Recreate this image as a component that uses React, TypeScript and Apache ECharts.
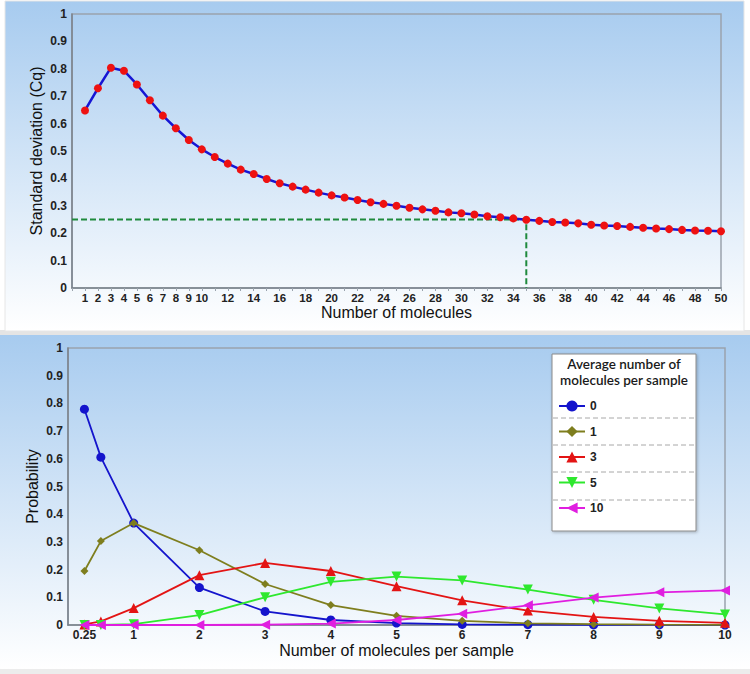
import React, { useEffect, useRef } from "react";
import * as echarts from "echarts";

// ---- Top chart data ----
const nMolecules = [
  1, 2, 3, 4, 5, 6, 7, 8, 9, 10, 11, 12, 13, 14, 15, 16, 17, 18, 19, 20, 21, 22, 23, 24, 25,
  26, 27, 28, 29, 30, 31, 32, 33, 34, 35, 36, 37, 38, 39, 40, 41, 42, 43, 44, 45, 46, 47, 48, 49, 50,
];
const sdValues = [
  0.648, 0.729, 0.804, 0.793, 0.743, 0.685, 0.629, 0.583, 0.54, 0.506,
  0.478, 0.454, 0.432, 0.416, 0.398, 0.382, 0.37, 0.359, 0.348, 0.338,
  0.33, 0.321, 0.313, 0.307, 0.3, 0.293, 0.287, 0.282, 0.276, 0.273,
  0.268, 0.262, 0.258, 0.254, 0.249, 0.245, 0.241, 0.239, 0.236, 0.231,
  0.228, 0.226, 0.223, 0.22, 0.217, 0.215, 0.212, 0.21, 0.209, 0.207,
];
const topTickLabels = [1, 2, 3, 4, 5, 6, 7, 8, 9, 10, 12, 14, 16, 18, 20, 22, 24, 26, 28, 30, 32, 34, 36, 38, 40, 42, 44, 46, 48, 50];
const thresholdSd = 0.25;
const thresholdN = 35;

// ---- Bottom chart data ----
const avgMolecules = [0.25, 0.5, 1, 2, 3, 4, 5, 6, 7, 8, 9, 10];
const bottomTickLabels = [0.25, 1, 2, 3, 4, 5, 6, 7, 8, 9, 10];
const seriesNames = ["0", "1", "3", "5", "10"];
const prob0 = [0.779, 0.606, 0.368, 0.135, 0.049, 0.018, 0.007, 0.002, 0.001, 0.0003, 0.0001, 0];
const prob1 = [0.195, 0.303, 0.368, 0.27, 0.148, 0.072, 0.033, 0.015, 0.006, 0.003, 0.001, 0.0005];
const prob3 = [0.002, 0.013, 0.061, 0.18, 0.224, 0.195, 0.14, 0.089, 0.052, 0.029, 0.015, 0.008];
const prob5 = [0, 0.0002, 0.003, 0.036, 0.1, 0.156, 0.175, 0.161, 0.128, 0.091, 0.06, 0.038];
const prob10 = [0, 0, 0, 0, 0.001, 0.005, 0.018, 0.041, 0.071, 0.099, 0.118, 0.125];
const legendTitleLines = ["Average number of", "molecules per sample"];

const FONT = "'Liberation Sans', Arial, sans-serif";

export default function App() {
  const ref = useRef<HTMLDivElement>(null);
  useEffect(() => {
    if (!ref.current) return;
    const chart = echarts.init(ref.current, undefined, { renderer: "svg" });

    const grad = {
      type: "linear", x: 0, y: 0, x2: 0, y2: 1,
      colorStops: [
        { offset: 0, color: "#a7cbef" },
        { offset: 1, color: "#ffffff" },
      ],
    };

    const axisLabelStyle = { fontFamily: FONT, fontWeight: "bold", fontSize: 12, color: "#222" };
    const nameStyle = { fontFamily: FONT, fontSize: 16, color: "#111" };
    const axisLineStyle = { show: true, lineStyle: { color: "#7a828b", width: 1.5 } };

    const bottomColors = ["#1414cc", "#7e7e1e", "#e31414", "#2ee82e", "#e01ee0"];
    const bottomSymbols = ["circle", "diamond", "triangle", "triangle", "triangle"];
    const bottomRot = [0, 0, 0, 180, 90];
    const bottomSizes = [9, 8, 10, 10, 10];
    const bottomData = [prob0, prob1, prob3, prob5, prob10];

    const legendBox = { x: 552, y: 354, w: 144, h: 177 };
    const sepYs = [418, 445, 472, 500];
    const titleYs = [364, 380];

    const option: any = {
      animation: false,
      backgroundColor: "#ffffff",
      textStyle: { fontFamily: FONT },
      graphic: [
        { type: "rect", z: -10, shape: { x: 0, y: 330, width: 750, height: 6 }, style: { fill: "#e4e4e4" }, silent: true },
        { type: "rect", z: -10, shape: { x: 0, y: 669, width: 750, height: 5 }, style: { fill: "#ececec" }, silent: true },
        { type: "rect", z: -9, shape: { x: 5, y: 1, width: 739, height: 330 }, style: { fill: grad, stroke: "#e6e6e6", lineWidth: 1 }, silent: true },
        { type: "rect", z: -9, shape: { x: 0, y: 335, width: 750, height: 334 }, style: { fill: grad }, silent: true },
        {
          type: "rect", z: 3,
          shape: { x: legendBox.x, y: legendBox.y, width: legendBox.w, height: legendBox.h },
          style: { fill: "#ffffff", stroke: "#8a8a8a", lineWidth: 1, shadowBlur: 3, shadowColor: "rgba(0,0,0,0.25)", shadowOffsetX: 1, shadowOffsetY: 1 },
        },
        ...legendTitleLines.map((t, i) => ({
          type: "text", z: 6, x: legendBox.x + legendBox.w / 2, y: titleYs[i],
          style: {
            text: t,
            fontFamily: "Lato, 'Open Sans', sans-serif",
            fontSize: 13.5, fontWeight: 600, fill: "#1a1a1a",
            align: "center", verticalAlign: "middle",
          },
        })),
        ...sepYs.map((y) => ({
          type: "line", z: 6,
          shape: { x1: legendBox.x + 1, y1: y, x2: legendBox.x + legendBox.w, y2: y },
          style: { stroke: "#a8a8a8", lineWidth: 1, lineDash: [5, 3] },
        })),
      ],
      grid: [
        { left: 72, top: 14, width: 649, height: 274, show: true, borderColor: "#9aa3ad", borderWidth: 1.5, backgroundColor: "transparent" },
        { left: 68, top: 348, width: 657, height: 277, show: true, borderColor: "#9aa3ad", borderWidth: 1.5, backgroundColor: "transparent" },
      ],
      legend: {
        data: seriesNames,
        orient: "vertical",
        left: 553,
        top: 395,
        itemWidth: 26,
        itemHeight: 14,
        itemGap: 13.5,
        z: 7,
        textStyle: { fontFamily: FONT, fontWeight: "bold", fontSize: 12, color: "#222" },
      },
      xAxis: [
        {
          gridIndex: 0, type: "value", min: 0, max: 50, interval: 1,
          axisLine: axisLineStyle,
          axisTick: { show: true, length: 3, lineStyle: { color: "#9aa3ad" } },
          axisLabel: { ...axisLabelStyle, fontSize: 11.5, customValues: topTickLabels, margin: 4 },
          splitLine: { show: false },
          name: "Number of molecules", nameLocation: "middle", nameGap: 16, nameTextStyle: nameStyle,
        },
        {
          gridIndex: 1, type: "value", min: 0, max: 10, interval: 1,
          axisLine: axisLineStyle,
          axisTick: { show: false },
          axisLabel: { ...axisLabelStyle, customValues: bottomTickLabels, margin: 4 },
          splitLine: { show: false },
          name: "Number of molecules per sample", nameLocation: "middle", nameGap: 17, nameTextStyle: nameStyle,
        },
      ],
      yAxis: [
        {
          gridIndex: 0, type: "value", min: 0, max: 1, interval: 0.1,
          axisLine: axisLineStyle,
          axisTick: { show: false },
          axisLabel: { ...axisLabelStyle, margin: 5 },
          splitLine: { show: false },
          name: "Standard deviation (Cq)", nameLocation: "middle", nameGap: 28, nameMoveOverlap: false, nameTextStyle: nameStyle,
        },
        {
          gridIndex: 1, type: "value", min: 0, max: 1, interval: 0.1,
          axisLine: axisLineStyle,
          axisTick: { show: false },
          axisLabel: { ...axisLabelStyle, margin: 5 },
          splitLine: { show: false },
          name: "Probability", nameLocation: "middle", nameGap: 28, nameMoveOverlap: false, nameTextStyle: nameStyle,
        },
      ],
      series: [
        {
          name: "threshold", type: "line", xAxisIndex: 0, yAxisIndex: 0, z: 2,
          data: [[0, thresholdSd], [thresholdN, thresholdSd], [thresholdN, 0]],
          symbol: "none",
          lineStyle: { color: "#1f8a3d", width: 2, type: [6, 3] },
        },
        {
          name: "sd", type: "line", xAxisIndex: 0, yAxisIndex: 0, z: 3,
          data: nMolecules.map((n, i) => [n, sdValues[i]]),
          symbol: "circle", symbolSize: 8,
          itemStyle: { color: "#ee1111" },
          lineStyle: { color: "#1616d4", width: 2.5 },
        },
        ...seriesNames.map((name, k) => ({
          name, type: "line", xAxisIndex: 1, yAxisIndex: 1, z: 3 + k * 0.1,
          data: avgMolecules.map((x, i) => [x, bottomData[k][i]]),
          symbol: bottomSymbols[k], symbolSize: bottomSizes[k], symbolRotate: bottomRot[k],
          itemStyle: { color: bottomColors[k] },
          lineStyle: { color: bottomColors[k], width: 1.8 },
        })),
      ],
    };

    chart.setOption(option);
    return () => chart.dispose();
  }, []);

  return <div ref={ref} style={{ position: "absolute", left: 0, top: 0, width: 750, height: 674 }} />;
}
